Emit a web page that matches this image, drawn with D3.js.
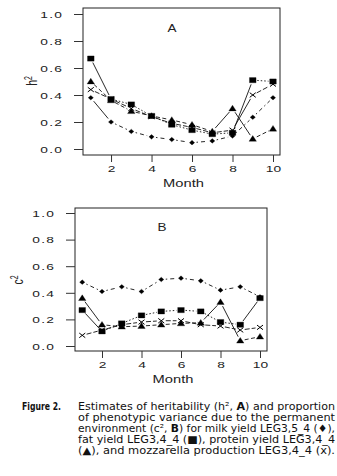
<!DOCTYPE html>
<html>
<head>
<meta charset="utf-8">
<script src="https://cdn.jsdelivr.net/npm/d3@7"></script>
<style>
  body { margin: 0; background: #fff; }
  .ax text { font-family: "Liberation Sans", Arial, sans-serif; }
</style>
</head>
<body>
<div id="chart"></div>
<script>
const width = 337,
  height = 476;

const months = [1, 2, 3, 4, 5, 6, 7, 8, 9, 10];
const xTicks = [2, 4, 6, 8, 10];
const yTicks = [0, 0.2, 0.4, 0.6, 0.8, 1.0];

// heritability (panel A)
const h2Milk = [0.38, 0.20, 0.13, 0.09, 0.07, 0.047, 0.06, 0.096, 0.235, 0.38];
const h2Fat = [0.67, 0.37, 0.33, 0.245, 0.18, 0.14, 0.11, 0.12, 0.51, 0.50];
const h2Protein = [0.50, 0.36, 0.28, 0.245, 0.215, 0.18, 0.13, 0.30, 0.075, 0.15];
const h2Mozz = [0.44, 0.37, 0.30, 0.24, 0.19, 0.16, 0.12, 0.14, 0.40, 0.48];

// permanent environment (panel B)
const c2Milk = [0.48, 0.41, 0.445, 0.41, 0.50, 0.51, 0.49, 0.42, 0.445, 0.37];
const c2Fat = [0.27, 0.11, 0.17, 0.23, 0.26, 0.27, 0.26, 0.18, 0.16, 0.36];
const c2Protein = [0.36, 0.16, 0.145, 0.15, 0.16, 0.17, 0.175, 0.33, 0.04, 0.07];
const c2Mozz = [0.08, 0.12, 0.16, 0.18, 0.19, 0.19, 0.16, 0.15, 0.12, 0.14];

const captionLines = [
  [["Estimates of heritability (h², ", 0], ["A", 1], [") and proportion", 0]],
  [["of phenotypic variance due to the permanent", 0]],
  [["environment (c², ", 0], ["B", 1], [") for milk yield LEG3,5_4 (♦),", 0]],
  [["fat yield LEG3,4_4 (■), protein yield LEG3,4_4", 0]],
  [["(▲), and mozzarella production LEG3,4_4 (x).", 0]]
];

const sx = 1.45; // the figure is stretched sideways

const svg = d3.select("#chart")
  .append("svg")
  .attr("width", width)
  .attr("height", height)
  .style("background-color", "#fff");

const markers = {
  diamond: "M0,-2.3L2.6,0L0,2.3L-2.6,0Z",
  square: "M-3.3,-2.6H3.3V2.6H-3.3Z",
  triangle: "M0,-3.3L3.7,2.4L-3.7,2.4Z",
  cross: "M-3,-2.3L3,2.3M-3,2.3L3,-2.3"
};

const panels = [
  {
    letter: "A", ylab: "h", letterPos: [172, 28], ylabPos: [37, 81],
    box: { l: 83, t: 8, r: 280, b: 155 }, xr: [90.8, 273], yr: [149, 14],
    monthY: 187,
    series: [
      { v: h2Milk, m: "diamond", dash: "1.5,3,4,3" },
      { v: h2Fat, m: "square", dash: "1.5,2" },
      { v: h2Protein, m: "triangle", dash: "4,2.5" },
      { v: h2Mozz, m: "cross", dash: "5,2" }
    ]
  },
  {
    letter: "B", ylab: "c", letterPos: [162, 227], ylabPos: [23, 280],
    box: { l: 75, t: 208, r: 267, b: 351 }, xr: [82.25, 260], yr: [346, 213],
    monthY: 383,
    series: [
      { v: c2Milk, m: "diamond", dash: "1.5,3,4,3" },
      { v: c2Fat, m: "square", dash: "1.5,2" },
      { v: c2Protein, m: "triangle", dash: "4,2.5" },
      { v: c2Mozz, m: "cross", dash: "5,2" }
    ]
  }
];

panels.forEach(p => {
  const x = d3.scaleLinear().domain([1, 10]).range(p.xr);
  const y = d3.scaleLinear().domain([0, 1]).range(p.yr);
  const g = svg.append("g");

  g.append("rect")
    .attr("x", p.box.l).attr("y", p.box.t)
    .attr("width", p.box.r - p.box.l).attr("height", p.box.b - p.box.t)
    .attr("fill", "none").attr("stroke", "#222").attr("stroke-width", 1);

  // y axis
  const ya = g.append("g").attr("class", "ax")
    .attr("transform", "translate(" + p.box.l + ",0)")
    .call(d3.axisLeft(y).tickValues(yTicks).tickFormat(d3.format(".1f")).tickSize(9));
  ya.select(".domain").remove();
  ya.selectAll("line").attr("stroke", "#333");
  ya.selectAll("text")
    .attr("x", null).attr("dy", "0.34em")
    .attr("transform", "translate(-20,0) scale(" + sx + ",1)")
    .style("font-size", "9.5px").style("letter-spacing", "0.8px")
    .attr("fill", "#222");

  // x axis
  const xa = g.append("g").attr("class", "ax")
    .attr("transform", "translate(0," + p.box.b + ")")
    .call(d3.axisBottom(x).tickValues(xTicks).tickFormat(d3.format("d")).tickSize(7));
  xa.select(".domain").remove();
  xa.selectAll("line").attr("stroke", "#333");
  xa.selectAll("text")
    .attr("y", 10).attr("dy", "0.71em")
    .attr("transform", "scale(" + sx + ",1)")
    .style("font-size", "9.5px")
    .attr("fill", "#222");

  g.append("text")
    .attr("transform", "translate(" + ((p.box.l + p.box.r) / 2 + 2) + "," + p.monthY + ") scale(1.4,1)")
    .attr("text-anchor", "middle")
    .style("font-family", "Liberation Sans, Arial, sans-serif")
    .style("font-size", "10.5px")
    .attr("fill", "#222")
    .text("Month");

  const yl = g.append("text")
    .attr("transform", "translate(" + p.ylabPos[0] + "," + p.ylabPos[1] + ") scale(" + sx + ",1) rotate(-90)")
    .attr("text-anchor", "middle")
    .style("font-family", "Liberation Sans, Arial, sans-serif")
    .style("font-size", "10.5px")
    .attr("fill", "#222");
  yl.append("tspan").text(p.ylab);
  yl.append("tspan").attr("dy", "-0.45em").style("font-size", "7px").text("2");

  g.append("text")
    .attr("transform", "translate(" + p.letterPos[0] + "," + (p.letterPos[1] + 3.5) + ") scale(1.35,1)")
    .attr("text-anchor", "middle")
    .style("font-family", "Liberation Sans, Arial, sans-serif")
    .style("font-size", "10px")
    .attr("fill", "#222")
    .text(p.letter);

  // lines, with gaps round the points
  const gap = 4.5;
  p.series.forEach(s => {
    const pts = s.v.map((v, i) => [x(months[i]), y(v)]);
    const segs = d3.pairs(pts).map(([a, b]) => {
      const dx = b[0] - a[0], dy = b[1] - a[1];
      const L = Math.hypot(dx, dy);
      const ux = dx / L, uy = dy / L;
      return {
        x1: a[0] + ux * gap, y1: a[1] + uy * gap,
        x2: b[0] - ux * gap, y2: b[1] - uy * gap,
        steep: Math.abs(dy) / L > 0.707, ok: L > 2 * gap + 1
      };
    }).filter(d => d.ok);

    g.append("g").selectAll("line")
      .data(segs)
      .enter()
      .append("line")
      .attr("x1", d => d.x1).attr("y1", d => d.y1)
      .attr("x2", d => d.x2).attr("y2", d => d.y2)
      .attr("stroke", "#111")
      .attr("stroke-width", 0.9)
      .attr("stroke-dasharray", d => d.steep ? null : s.dash);

    g.append("g").selectAll("path")
      .data(pts)
      .enter()
      .append("path")
      .attr("transform", d => "translate(" + d[0] + "," + d[1] + ")")
      .attr("d", markers[s.m])
      .attr("fill", s.m === "cross" ? "none" : "#000")
      .attr("stroke", "#000")
      .attr("stroke-width", s.m === "cross" ? 1 : 0.3);
  });
});

// caption
svg.append("text")
  .attr("x", 22).attr("y", 410)
  .attr("textLength", 39).attr("lengthAdjust", "spacingAndGlyphs")
  .style("font-family", "DejaVu Sans Condensed, DejaVu Sans, Verdana, sans-serif")
  .style("font-size", "10.5px")
  .style("font-weight", "bold")
  .attr("fill", "#111")
  .text("Figure 2.");

captionLines.forEach((line, i) => {
  const t = svg.append("text")
    .attr("x", 78).attr("y", 410 + i * 11.1)
    .attr("textLength", 257).attr("lengthAdjust", "spacingAndGlyphs")
    .style("font-family", "DejaVu Sans Condensed, DejaVu Sans, Verdana, sans-serif")
    .style("font-size", "10.3px")
    .attr("fill", "#111");
  line.forEach(([str, bold]) => {
    t.append("tspan").style("font-weight", bold ? "bold" : "normal").text(str);
  });
});
</script>
</body>
</html>
